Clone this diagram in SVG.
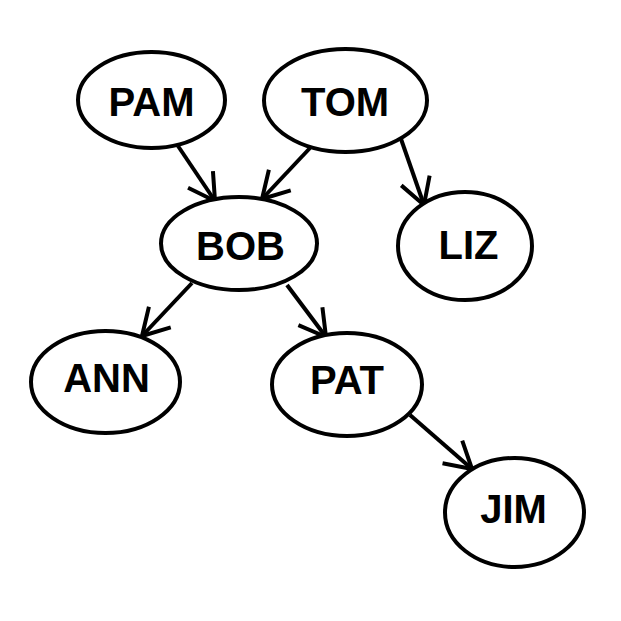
<svg xmlns="http://www.w3.org/2000/svg" width="621" height="621" viewBox="0 0 621 621">
<defs>
<style>
.node ellipse{fill:#fff;stroke:#000;stroke-width:4}
.node text{font-family:"Liberation Sans",Arial,sans-serif;font-weight:bold;font-size:40px;text-anchor:middle;fill:#000}
.edge{stroke:#000;stroke-width:4;fill:none;marker-end:url(#arr)}
</style>
<marker id="arr" markerUnits="userSpaceOnUse" markerWidth="60" markerHeight="60" refX="0" refY="0" orient="auto" overflow="visible" viewBox="-30 -30 60 60">
<path d="M-26,-15 L0,0 L-26,15" fill="none" stroke="#000" stroke-width="4" stroke-linejoin="round"/>
</marker>
</defs>
<rect width="621" height="621" fill="#fff"/>
<g id="connectors">
<line class="edge" x1="178" y1="146" x2="215" y2="201"/>
<line class="edge" x1="310" y1="148" x2="262" y2="199"/>
<line class="edge" x1="401" y1="139" x2="424" y2="205"/>
<line class="edge" x1="192" y1="283" x2="142" y2="336"/>
<line class="edge" x1="287" y1="285" x2="326" y2="337"/>
<line class="edge" x1="410" y1="415" x2="472" y2="469"/>
</g>
<g id="node-pam" class="node"><ellipse cx="151.5" cy="100" rx="73.5" ry="48"/><text x="151.5" y="116">PAM</text></g>
<g id="node-tom" class="node"><ellipse cx="345.5" cy="100.5" rx="81.5" ry="51.5"/><text x="345" y="116">TOM</text></g>
<g id="node-bob" class="node"><ellipse cx="239" cy="243.5" rx="78" ry="46.5"/><text x="240.5" y="260">BOB</text></g>
<g id="node-liz" class="node"><ellipse cx="465" cy="246" rx="67" ry="54"/><text x="468.5" y="259">LIZ</text></g>
<g id="node-ann" class="node"><ellipse cx="105.5" cy="382" rx="74.5" ry="51"/><text x="106.5" y="392">ANN</text></g>
<g id="node-pat" class="node"><ellipse cx="347" cy="384.5" rx="75" ry="51.5"/><text x="347" y="394">PAT</text></g>
<g id="node-jim" class="node"><ellipse cx="514.5" cy="512.5" rx="69.5" ry="54.5"/><text x="513.5" y="523">JIM</text></g>
</svg>
